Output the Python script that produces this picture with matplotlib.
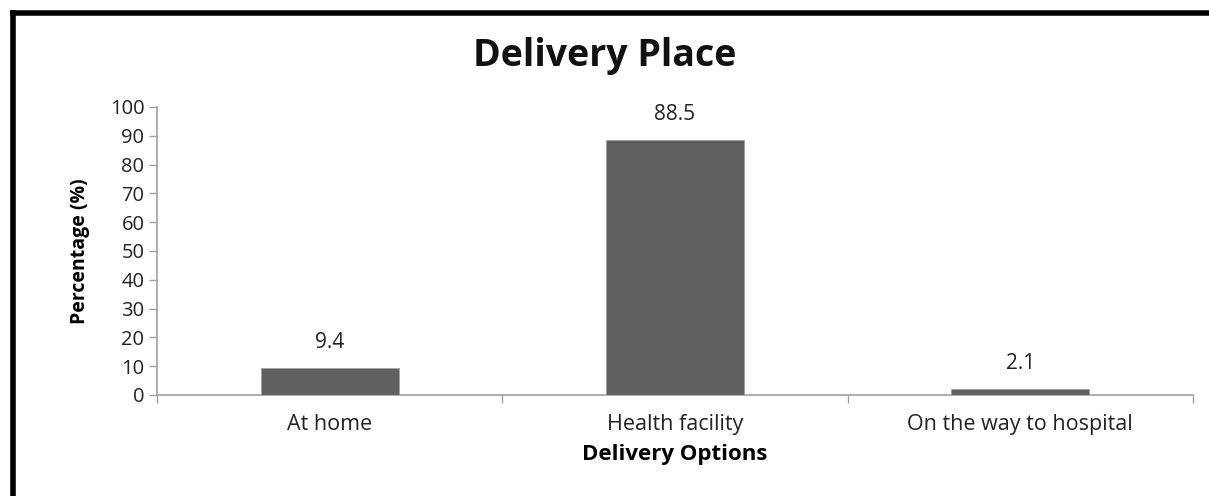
import matplotlib.pyplot as plt
from matplotlib.lines import Line2D

categories = ['At home', 'Health facility', 'On the way to hospital']
percentages = [9.4, 88.5, 2.1]
yticks = list(range(0, 101, 10))

plt.rcParams['font.family'] = ['Open Sans', 'DejaVu Sans']

fig = plt.figure(figsize=(12.09, 4.96), dpi=100)
ax = fig.add_axes([157 / 1209, 1 - 395 / 496, (1193 - 157) / 1209, (395 - 107) / 496])

axis_grey = '#a0a0a0'
x = range(len(categories))
bars = ax.bar(x, percentages, width=0.4, color='#606060', edgecolor='#a0a0a0', linewidth=0.6, zorder=3)

for rect, v in zip(bars, percentages):
    ax.annotate(f'{v}', (rect.get_x() + rect.get_width() / 2, v),
                xytext=(0, 11), textcoords='offset points',
                ha='center', va='bottom', fontsize=15, color='#222222')

ax.set_xlim(-0.5, len(categories) - 0.5)
ax.set_ylim(0, 100)
ax.set_yticks(yticks)
ax.tick_params(axis='y', labelsize=14.5, colors='#222222', length=6, width=1, color=axis_grey, pad=3)

# category labels between tick marks, Excel-style
ax.set_xticks(list(x))
ax.set_xticklabels(categories, fontsize=15.5, color='#222222')
ax.tick_params(axis='x', length=0, pad=14)
ax.set_xticks([i - 0.5 for i in range(len(categories) + 1)], minor=True)
ax.tick_params(axis='x', which='minor', length=6, width=1, color=axis_grey)

for s in ['top', 'right']:
    ax.spines[s].set_visible(False)
for s in ['left', 'bottom']:
    ax.spines[s].set_color(axis_grey)
    ax.spines[s].set_linewidth(1.2)

ax.set_ylabel('Percentage (%)', fontsize=14, fontweight='bold', labelpad=14)
ax.set_xlabel('Delivery Options', fontsize=16, fontweight='bold', labelpad=6)
fig.text(0.5, 1 - 56 / 496, 'Delivery Place', ha='center', va='center',
         fontsize=27, fontweight='bold', color='#111111')

# thick frame on the left and top edges
fig.add_artist(Line2D([12.5 / 1209, 12.5 / 1209], [0, 1 - 12.5 / 496], transform=fig.transFigure,
                      color='black', linewidth=4, solid_capstyle='projecting'))
fig.add_artist(Line2D([12.5 / 1209, 1], [1 - 12.5 / 496, 1 - 12.5 / 496], transform=fig.transFigure,
                      color='black', linewidth=4, solid_capstyle='projecting'))

fig.savefig('out.png', dpi=100)
